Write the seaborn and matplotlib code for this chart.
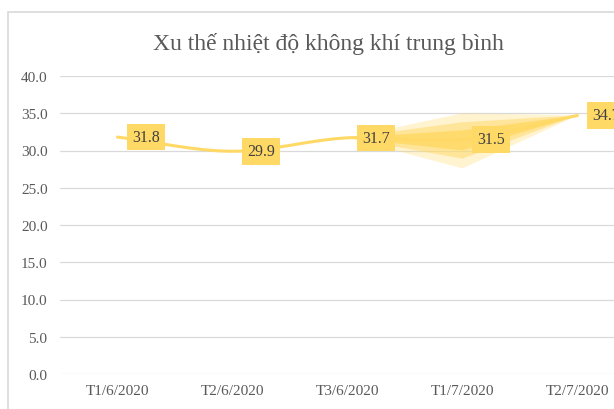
import numpy as np
import pandas as pd
import seaborn as sns
import matplotlib.pyplot as plt
from matplotlib.patches import Rectangle

# du lieu
periods = ["T1/6/2020", "T2/6/2020", "T3/6/2020", "T1/7/2020", "T2/7/2020"]
temps = [31.8, 29.9, 31.7, 31.5, 34.7]
# vung "quat" mo quanh T1/7 (gia tri doc tu hinh)
fan_upper = [35.0, 33.8, 32.7]
fan_lower = [27.6, 28.9, 30.0]
yticks = [0, 5, 10, 15, 20, 25, 30, 35, 40]

line_color = "#FFD966"
text_gray = "#595959"

sns.set_style("white")
plt.rcParams["font.family"] = ["Liberation Serif", "DejaVu Serif"]

fig = plt.figure(figsize=(6.14, 4.10), dpi=100)
# khung bieu do
fig.patches.append(Rectangle((8 / 614, -0.1), 1.2, 1 - 13 / 410 + 0.1,
                             transform=fig.transFigure, fill=False,
                             edgecolor="#d9d9d9", linewidth=1.2))
ax = fig.add_axes([60 / 614, 35 / 410, 575 / 614, 298 / 410])

# duong cong min (Catmull-Rom) qua cac diem
xs = np.arange(len(temps), dtype=float)
ys = np.array(temps, dtype=float)
px = np.concatenate([[2 * xs[0] - xs[1]], xs, [2 * xs[-1] - xs[-2]]])
py = np.concatenate([[2 * ys[0] - ys[1]], ys, [2 * ys[-1] - ys[-2]]])
cx, cy = [], []
t = np.linspace(0, 1, 30)
for i in range(1, len(px) - 2):
    for arr, out in ((px, cx), (py, cy)):
        p0, p1, p2, p3 = arr[i - 1], arr[i], arr[i + 1], arr[i + 2]
        out.extend(0.5 * ((2 * p1) + (-p0 + p2) * t
                          + (2 * p0 - 5 * p1 + 4 * p2 - p3) * t ** 2
                          + (-p0 + 3 * p1 - 3 * p2 + p3) * t ** 3))
smooth = pd.DataFrame({"x": cx, "y": cy})

sns.lineplot(data=smooth, x="x", y="y", ax=ax, color=line_color,
             linewidth=2.2, sort=False, zorder=3)

# hieu ung quat mo giua T3/6 va T2/7
for up, lo, a in zip(fan_upper, fan_lower, [0.3, 0.5, 0.85]):
    ax.fill([2, 3, 4, 3], [temps[2], up, temps[4], lo],
            color=line_color, alpha=a, linewidth=0, zorder=2)

# nhan du lieu
for i, v in enumerate(temps):
    ax.annotate(f"{v:.1f}", (i, v), xytext=(10.5, 0), textcoords="offset points",
                ha="left", va="center", fontsize=11.5, color="#404040", zorder=5,
                bbox=dict(boxstyle="square,pad=0.33", facecolor=line_color,
                          edgecolor="none"))

ax.set_xlim(-0.5, 4.5)
ax.set_ylim(0, 40)
ax.set_xticks(range(len(periods)))
ax.set_xticklabels(periods)
ax.set_yticks(yticks)
ax.set_yticklabels([f"{v:.1f}" for v in yticks])
ax.tick_params(axis="both", length=0, labelsize=11, labelcolor=text_gray)
ax.tick_params(axis="y", pad=9)
ax.tick_params(axis="x", pad=7)
ax.grid(axis="y", color="#d9d9d9", linewidth=0.9)
ax.set_axisbelow(True)
ax.set_xlabel("")
ax.set_ylabel("")
for s in ax.spines.values():
    s.set_visible(False)

fig.text(328 / 614, 1 - 44 / 410, "Xu thế nhiệt độ không khí trung bình",
         ha="center", va="center", fontsize=17, color=text_gray)

fig.savefig("out.png", dpi=100)
